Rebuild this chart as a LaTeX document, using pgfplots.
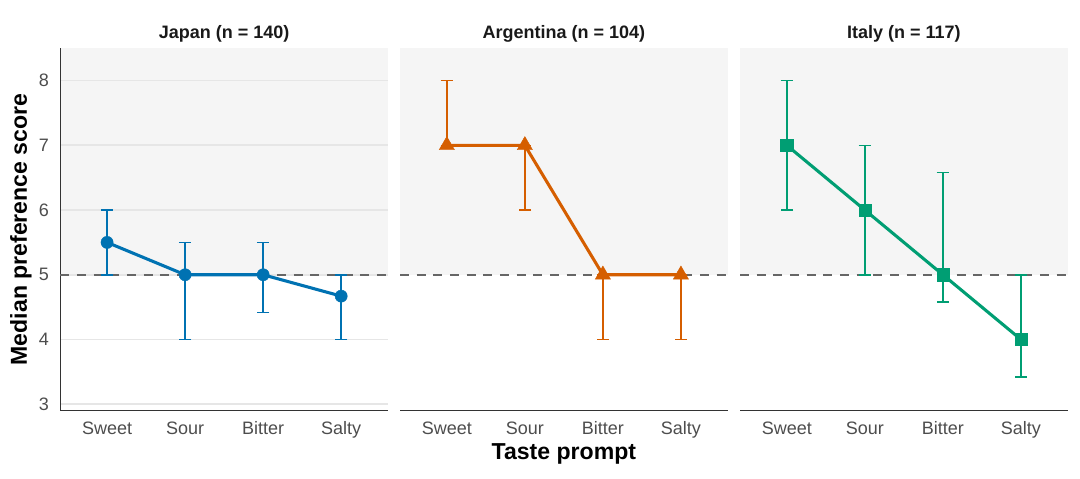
\documentclass[border=0pt]{standalone}
\usepackage{pgfplots}
\pgfplotsset{compat=1.18}
\usepackage{fontspec}
\setmainfont{Liberation Sans}
\definecolor{cjp}{HTML}{0072B2}
\definecolor{car}{HTML}{D55E00}
\definecolor{cit}{HTML}{009E73}
\definecolor{bgc}{HTML}{F5F5F5}
\definecolor{gridc}{HTML}{E6E6E6}
\definecolor{tickc}{HTML}{4D4D4D}
\definecolor{dashc}{HTML}{666666}
\definecolor{axc}{HTML}{333333}
\pgfplotsset{
  panel/.style={
    scale only axis, width=245.8pt, height=271.8pt,
    xmin=0.4, xmax=4.6, ymin=2.9, ymax=8.5,
    xtick={1,2,3,4}, xticklabels={Sweet,Sour,Bitter,Salty},
    ytick={3,4,5,6,7,8},
    ymajorgrids, major grid style={draw=gridc, line width=1.3pt},
    major tick length=0pt,
    set layers,
    axis x line*=bottom,
    axis line style={-, draw=axc, line width=0.95pt},
    /pgf/number format/assume math mode=true,
    tick label style={font=\fontsize{13.5}{16}\selectfont, text=tickc},
    xticklabel style={anchor=base, inner sep=0pt, yshift=-17.5pt},
    yticklabel style={anchor=east, inner sep=0pt, xshift=-8.3pt},
    every axis title shift=0pt,
    title style={font=\bfseries\fontsize{13.5}{16}\selectfont, text=black!90, at={(rel axis cs:0.5,1.027)}, anchor=base, inner sep=0pt},
    label style={font=\bfseries\fontsize{17.3}{20}\selectfont, text=black},
    clip=false,
  },
  bgfill/.style={draw=none, fill=bgc, on layer=axis background, forget plot},
  refline/.style={draw=dashc, dash pattern=on 6.8pt off 5.7pt, line width=1.5pt, forget plot},
  ebars/.style={forget plot, draw=none, mark=none,
    error bars/y dir=both, error bars/y explicit,
    error bars/error bar style={draw=#1, line width=1.15pt, solid},
    error bars/error mark options={draw=#1, rotate=90, line width=1.15pt, mark size=4.7pt}},
  series/.style={#1, line width=2.3pt},
}
\begin{document}
\begin{tikzpicture}
% Japan
\begin{axis}[panel, at={(45.2pt,50.5pt)}, anchor=south west,
  axis y line*=left,
  title={Japan (n = 140)},
  ylabel={Median preference score},
  ylabel style={at={(rel axis cs:-0.1204,0.5)}, anchor=center, inner sep=0pt}]
\addplot[bgfill] coordinates {(0.4,5) (0.4,8.5) (4.6,8.5) (4.6,5)};
\addplot[refline] coordinates {(0.4,5) (4.6,5)};
\addplot[ebars=cjp]
  coordinates {(1,5.5) += (0,0.5) -= (0,0.5)
               (2,5) += (0,0.5) -= (0,1)
               (3,5) += (0,0.5) -= (0,0.58)
               (4,4.67) += (0,0.33) -= (0,0.67)};
\addplot[series=cjp, mark=*, mark size=4.6pt, mark options={solid, line width=0.3pt}]
  coordinates {(1,5.5) (2,5) (3,5) (4,4.67)};
\end{axis}
% Argentina
\begin{axis}[panel, at={(300pt,50.5pt)}, anchor=south west,
  axis y line=none, yticklabels={},
  title={Argentina (n = 104)},
  xlabel={Taste prompt},
  xlabel style={at={(rel axis cs:0.5,-0.1347)}, anchor=base, inner sep=0pt}]
\addplot[bgfill] coordinates {(0.4,5) (0.4,8.5) (4.6,8.5) (4.6,5)};
\addplot[refline] coordinates {(0.4,5) (4.6,5)};
\addplot[ebars=car]
  coordinates {(1,7) += (0,1) -= (0,0)
               (2,7) += (0,0) -= (0,1)
               (3,5) += (0,0) -= (0,1)
               (4,5) += (0,0) -= (0,1)};
\addplot[series=car, mark=triangle*, mark size=6.6pt, mark options={solid, line width=0.3pt}]
  coordinates {(1,7) (2,7) (3,5) (4,5)};
\end{axis}
% Italy
\begin{axis}[panel, at={(555pt,50.5pt)}, anchor=south west,
  axis y line=none, yticklabels={},
  title={Italy (n = 117)}]
\addplot[bgfill] coordinates {(0.4,5) (0.4,8.5) (4.6,8.5) (4.6,5)};
\addplot[refline] coordinates {(0.4,5) (4.6,5)};
\addplot[ebars=cit]
  coordinates {(1,7) += (0,1) -= (0,1)
               (2,6) += (0,1) -= (0,1)
               (3,5) += (0,1.58) -= (0,0.42)
               (4,4) += (0,1) -= (0,0.58)};
\addplot[series=cit, mark=square*, mark size=4.6pt, mark options={solid, line width=0.3pt}]
  coordinates {(1,7) (2,6) (3,5) (4,4)};
\end{axis}
\pgfresetboundingbox
\path[use as bounding box] (0,0) rectangle (810pt,358.5pt);
\end{tikzpicture}
\end{document}
